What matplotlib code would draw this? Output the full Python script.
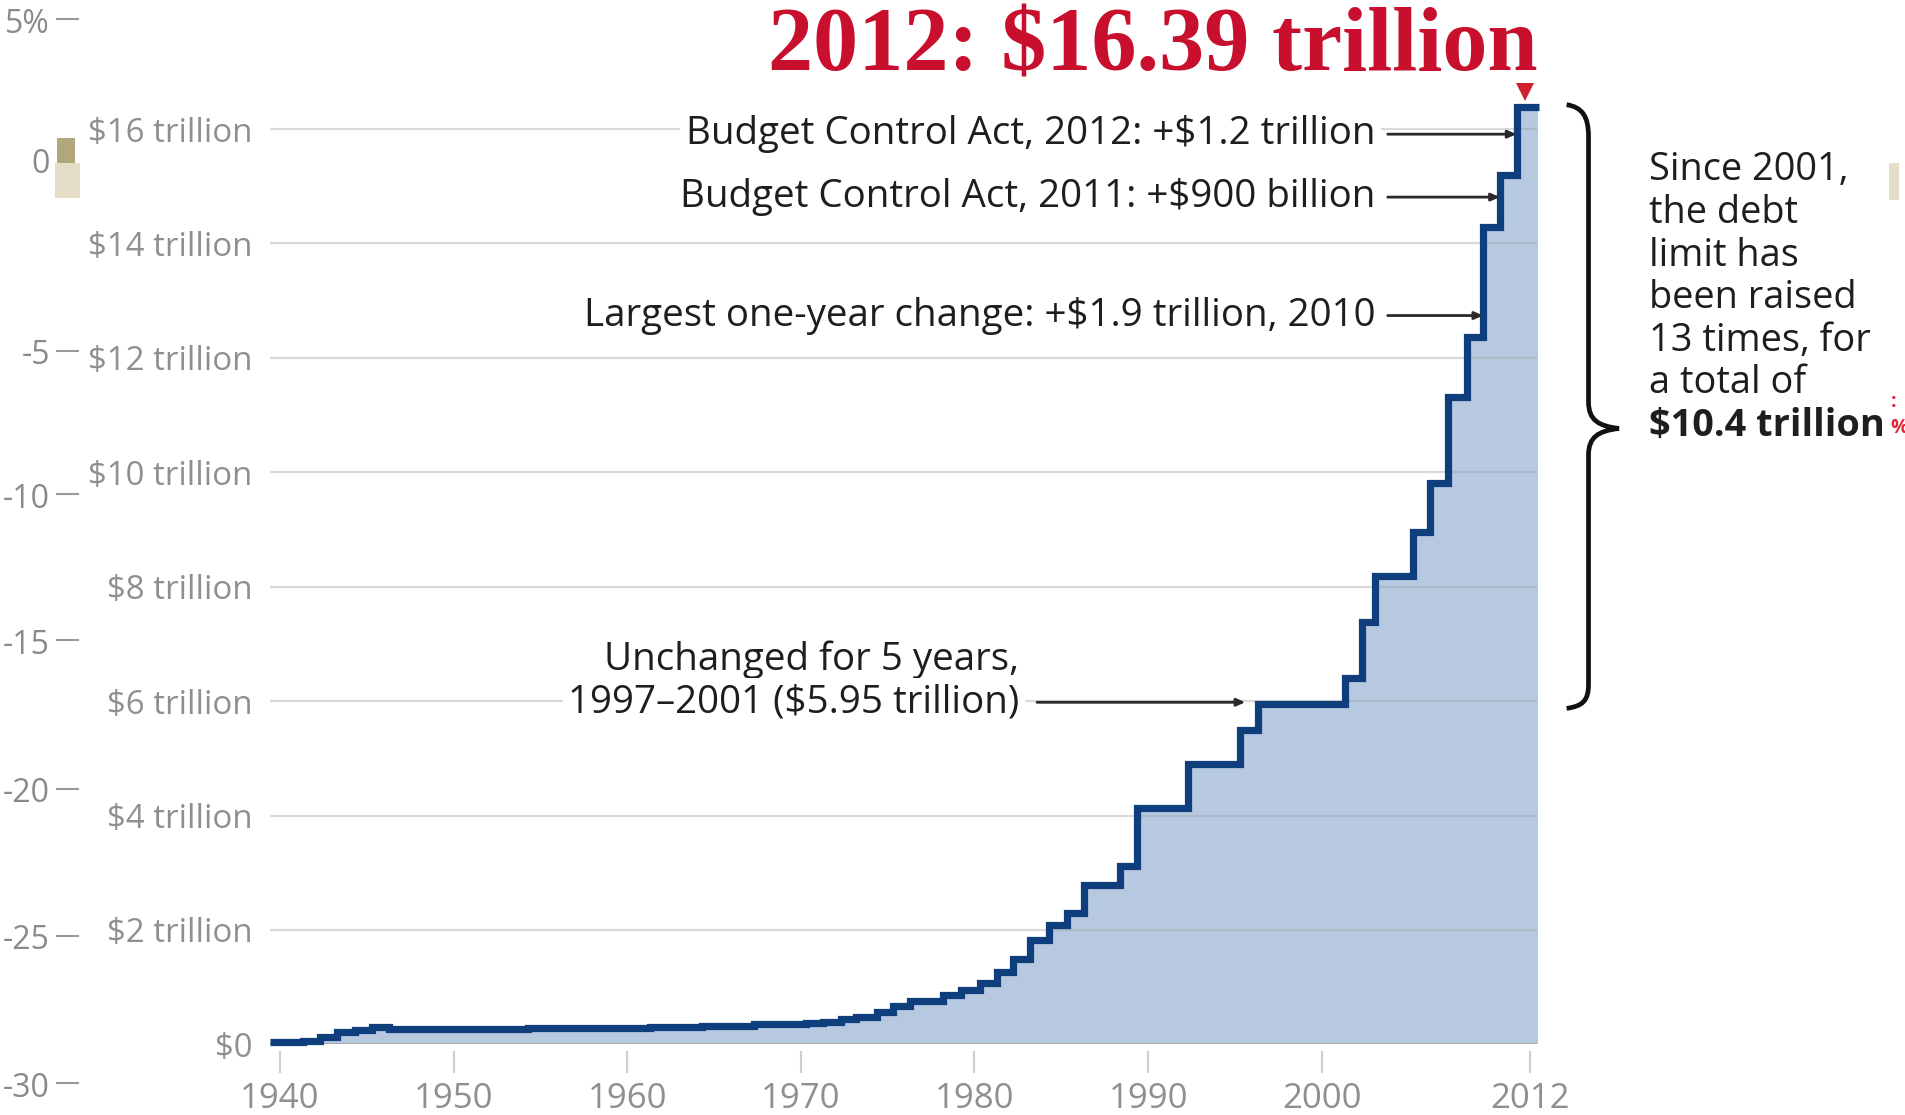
import matplotlib
matplotlib.use("Agg")
import matplotlib.pyplot as plt
from matplotlib.path import Path
from matplotlib.patches import PathPatch, Rectangle
from matplotlib.lines import Line2D
import numpy as np

# ---------------- data ----------------
step_start_year = [1939.45, 1941.3, 1942.3, 1943.3, 1944.3, 1945.3, 1946.3, 1954.3, 1956.3,
                   1958.3, 1959.3, 1961.3, 1962.3, 1964.3, 1965.3, 1967.3, 1968.3, 1970.3,
                   1971.3, 1972.3, 1973.2, 1974.4, 1975.3, 1976.3, 1978.2, 1979.2, 1980.3,
                   1981.3, 1982.2, 1983.2, 1984.3, 1985.3, 1986.3, 1988.4, 1989.35, 1992.3,
                   1995.3, 1996.35, 2001.35, 2002.3, 2003.06, 2005.27, 2006.23, 2007.29,
                   2008.35, 2009.30, 2010.26, 2011.22]
debt_limit_trillions = [0.045, 0.065, 0.125, 0.21, 0.26, 0.30, 0.275, 0.281, 0.278, 0.288,
                        0.295, 0.298, 0.308, 0.324, 0.328, 0.358, 0.365, 0.38, 0.40, 0.45,
                        0.485, 0.57, 0.67, 0.75, 0.86, 0.95, 1.07, 1.27, 1.50, 1.83, 2.09,
                        2.29, 2.79, 3.12, 4.13, 4.90, 5.50, 5.95, 6.40, 7.38, 8.18, 8.96,
                        9.81, 11.32, 12.37, 14.29, 15.19, 16.39]
end_year = 2012.5

x_ticks = [1940, 1950, 1960, 1970, 1980, 1990, 2000, 2012]
x_tick_labels = ["1940", "1950", "1960", "1970", "1980", "1990", "2000", "2012"]
y_ticks = [0, 2, 4, 6, 8, 10, 12, 14, 16]
y_tick_labels = ["$0", "$2 trillion", "$4 trillion", "$6 trillion", "$8 trillion",
                 "$10 trillion", "$12 trillion", "$14 trillion", "$16 trillion"]

ghost_labels = ["5%", "0", "-5", "-10", "-15", "-20", "-25", "-30"]

annotation_texts = ["Budget Control Act, 2012: +$1.2 trillion",
                    "Budget Control Act, 2011: +$900 billion",
                    "Largest one-year change: +$1.9 trillion, 2010"]
annotation_tips_x = [2011.22, 2010.26, 2009.30]
annotation_y = [15.91, 14.81, 12.74]

side_note = ["Since 2001,", "the debt", "limit has", "been raised", "13 times, for",
             "a total of", "$10.4 trillion"]

title = "2012: $16.39 trillion"

# ---------------- layout helpers (reference-pixel space 1565x916) ----------------
W, H = 1565.0, 916.0
def fx(x):
    return x / W
def fy(y):
    return 1 - y / H

LINE = "#0e3f7c"
FILL = "#b6c9e1"
RED = "#c8102e"
GRAY = "#8f8f8f"
INK = "#1e1e1e"
SANS = ["Open Sans", "DejaVu Sans"]

fig = plt.figure(figsize=(19.05, 11.15), dpi=100)
fig.patch.set_facecolor("white")

ax = fig.add_axes([fx(222), fy(858), (1263 - 222) / W, (858 - 35.5) / H])
ax.set_xlim(1939.44, 2012.42)
ax.set_ylim(0, 17.5)
ax.set_facecolor("none")

xs = step_start_year + [end_year]
ys = debt_limit_trillions + [debt_limit_trillions[-1]]
ax.fill_between(xs, ys, 0, step="post", color=FILL, lw=0, zorder=1)
ax.step(xs, ys, where="post", color=LINE, lw=5.2, zorder=4, clip_on=False,
        solid_joinstyle="miter", solid_capstyle="butt")

for v in y_ticks:
    if v == 0:
        ax.axhline(v, color="#a8a8a8", lw=2.2, zorder=3)
    else:
        ax.axhline(v, color="#a0a0a0", alpha=0.4, lw=1.6, zorder=2)

for s in ax.spines.values():
    s.set_visible(False)
ax.spines["bottom"].set_position(("outward", 4.4))

ax.set_xticks(x_ticks)
ax.set_xticklabels(x_tick_labels, family=SANS, fontsize=25, color=GRAY)
ax.tick_params(axis="x", length=16, width=1.5, color="#cfcfcf", pad=7)
ax.set_yticks(y_ticks)
ax.set_yticklabels(y_tick_labels, family=SANS, fontsize=23.8, color=GRAY)
ax.tick_params(axis="y", length=0, pad=13)

# annotations with arrows
for txt, tx, ty in zip(annotation_texts, annotation_tips_x, annotation_y):
    ax.text(2003.1, ty, txt, ha="right", va="center", family=SANS, fontsize=27.7,
            color=INK, zorder=6,
            bbox=dict(boxstyle="square,pad=0.15", fc="white", ec="none"))
    ax.annotate("", xy=(tx, ty), xytext=(2003.8, ty), zorder=7,
                arrowprops=dict(arrowstyle="-|>,head_length=0.5,head_width=0.22",
                                color="#2a2a2a", lw=2, shrinkA=0, shrinkB=0))

ax.text(1982.6, 6.72, "Unchanged for 5 years,", ha="right", va="center", family=SANS,
        fontsize=27.7, color=INK, zorder=6,
        bbox=dict(boxstyle="square,pad=0.1", fc="white", ec="none"))
ax.text(1982.6, 5.98, "1997\u20132001 ($5.95 trillion)", ha="right", va="center",
        family=SANS, fontsize=27.7, color=INK, zorder=6,
        bbox=dict(boxstyle="square,pad=0.15", fc="white", ec="none"))
ax.annotate("", xy=(1995.6, 5.98), xytext=(1983.6, 5.98), zorder=7,
            arrowprops=dict(arrowstyle="-|>,head_length=0.5,head_width=0.22",
                            color="#2a2a2a", lw=2, shrinkA=0, shrinkB=0))

# red marker and title
ax.plot([2011.7], [16.64], marker="v", color="#d0202e", markersize=13, clip_on=False,
        zorder=8, markeredgewidth=0)
fig.text(fx(1263), fy(58), title, ha="right", va="baseline", color=RED,
         family=["Liberation Serif", "DejaVu Serif"], fontweight="bold", fontsize=65)

# curly brace
bv = [(1287, 86), (1300, 88), (1305, 96), (1305, 112),
      (1305, 330),
      (1305, 345), (1313, 350), (1330, 352),
      (1313, 354), (1305, 359), (1305, 374),
      (1305, 562),
      (1305, 576), (1300, 580), (1287, 582)]
codes = [Path.MOVETO, Path.CURVE4, Path.CURVE4, Path.CURVE4,
         Path.LINETO,
         Path.CURVE4, Path.CURVE4, Path.CURVE4,
         Path.CURVE4, Path.CURVE4, Path.CURVE4,
         Path.LINETO,
         Path.CURVE4, Path.CURVE4, Path.CURVE4]
path = Path([(fx(a), fy(b)) for a, b in bv], codes)
fig.add_artist(PathPatch(path, fc="none", ec="#111111", lw=3.4, transform=fig.transFigure))

# side note
for i, line in enumerate(side_note):
    fig.text(fx(1355), fy(140 + i * 35.0), line, ha="left", va="center", family=SANS,
             fontsize=27.3, color=INK,
             fontweight="bold" if i == len(side_note) - 1 else "normal")

# ghost axis from an underlying graphic
ghost_y = [20, 135, 292, 410, 530, 652, 773, 894]
for lab, gy in zip(ghost_labels, ghost_y):
    fig.text(fx(41), fy(gy), lab, ha="right", va="center", family=SANS, fontsize=23,
             color="#8a8a8a")
    if lab != "0":
        fig.add_artist(Line2D([fx(47), fx(64)], [fy(gy - 4), fy(gy - 4)], color="#999999",
                              lw=1.5, transform=fig.transFigure))

fig.add_artist(Rectangle((fx(47), fy(134)), 15 / W, 21 / H, transform=fig.transFigure,
                         fc="#b1a67c", ec="none"))
fig.add_artist(Rectangle((fx(45), fy(163)), 21 / W, 29 / H, transform=fig.transFigure,
                         fc="#e4ddc8", ec="none"))
fig.add_artist(Rectangle((fx(1552), fy(164)), 8 / W, 30 / H, transform=fig.transFigure,
                         fc="#e4ddc8", ec="none"))
fig.text(fx(1553), fy(330), ":", ha="left", va="center", color="#e0283a", fontsize=14,
         family=SANS, fontweight="bold")
fig.text(fx(1553), fy(352), "%", ha="left", va="center", color="#e0283a", fontsize=14,
         family=SANS, fontweight="bold")

fig.savefig("out.png", dpi=100, facecolor="white")
